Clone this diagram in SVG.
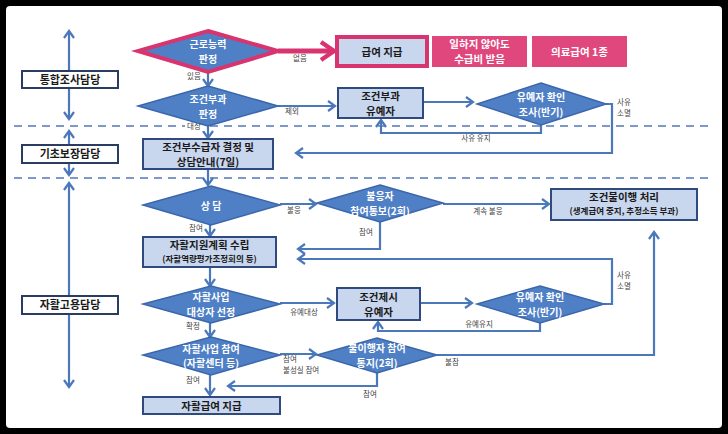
<svg xmlns="http://www.w3.org/2000/svg" width="728" height="434" viewBox="0 0 728 434">
<defs>
<style>
text{font-family:"Noto Sans CJK KR","Noto Sans",sans-serif;}
.lbox{fill:#ffffff;stroke:#2b3c63;stroke-width:2;}
.ltxt{font-size:11px;font-weight:bold;fill:#1a1a1a;text-anchor:middle;}
.box{fill:#c8d6ee;stroke:#2e4a7e;stroke-width:2;}
.btxt{font-size:10.5px;font-weight:bold;fill:#1a1a1a;text-anchor:middle;}
.stxt{font-size:8.5px;font-weight:bold;fill:#1a1a1a;text-anchor:middle;}
.dia{fill:#4f80c6;stroke:#3b66ab;stroke-width:1.5;}
.dtxt{font-size:10px;font-weight:bold;fill:#ffffff;text-anchor:middle;}
.pink{fill:#e0477c;}
.ptxt{font-size:10.5px;font-weight:bold;fill:#ffffff;text-anchor:middle;}
.lab{font-size:7.5px;fill:#444444;text-anchor:middle;}
.con{fill:none;stroke:#4a78bb;stroke-width:2.2;}
.dash{stroke:#7d99c9;stroke-width:2;stroke-dasharray:8,6;}
</style>
<marker id="ah" markerUnits="userSpaceOnUse" markerWidth="12" markerHeight="12" refX="9" refY="6" orient="auto">
<path d="M2,1 L9,6 L2,11" fill="none" stroke="#4a78bb" stroke-width="2.2"/>
</marker>
<marker id="ahp" markerUnits="userSpaceOnUse" markerWidth="20" markerHeight="22" refX="16" refY="11" orient="auto">
<path d="M3,2 L16,11 L3,20" fill="none" stroke="#d8346f" stroke-width="4.5"/>
</marker>
<marker id="ahs" markerUnits="userSpaceOnUse" markerWidth="12" markerHeight="12" refX="9" refY="6" orient="auto-start-reverse">
<path d="M2,1 L9,6 L2,11" fill="none" stroke="#4a78bb" stroke-width="2.2"/>
</marker>
</defs>
<rect x="0" y="0" width="728" height="434" fill="#000000"/>
<rect x="6" y="6" width="716" height="422" rx="4" fill="#ffffff"/>

<g id="dividers">
<line class="dash" x1="14" y1="126" x2="714" y2="126"/>
<line class="dash" x1="14" y1="178" x2="714" y2="178"/>
</g>

<g id="connectors">
<path class="con" d="M69,31 V119" marker-start="url(#ahs)" marker-end="url(#ah)"/>
<path class="con" d="M69,131 V175" marker-start="url(#ahs)" marker-end="url(#ah)"/>
<path class="con" d="M69,183 V387" marker-start="url(#ahs)" marker-end="url(#ah)"/>
<path d="M278,51 H334" fill="none" stroke="#d8346f" stroke-width="5" marker-end="url(#ahp)"/>
<path class="con" d="M208,72 V86" marker-end="url(#ah)"/>
<path class="con" d="M278,106 H335" marker-end="url(#ah)"/>
<path class="con" d="M208,126 V138" marker-end="url(#ah)"/>
<path class="con" d="M423,102 H473" marker-end="url(#ah)"/>
<path class="con" d="M606,104 H612 V153 H296" marker-end="url(#ah)"/>
<path class="con" d="M541,125 V133 H381 V120" marker-end="url(#ah)"/>
<path class="con" d="M208,169 V185" marker-end="url(#ah)"/>
<path class="con" d="M280,204 H316" marker-end="url(#ah)"/>
<path class="con" d="M443,204 H549" marker-end="url(#ah)"/>
<path class="con" d="M210,225 V236" marker-end="url(#ah)"/>
<path class="con" d="M380,222 V249 H298" marker-end="url(#ah)"/>
<path class="con" d="M604,304 H612 V259 H298" marker-end="url(#ah)"/>
<path class="con" d="M210,267 V286" marker-end="url(#ah)"/>
<path class="con" d="M280,303 H334" marker-end="url(#ah)"/>
<path class="con" d="M420,303 H472" marker-end="url(#ah)"/>
<path class="con" d="M540,323 V331 H378 V322" marker-end="url(#ah)"/>
<path class="con" d="M210,323 V337" marker-end="url(#ah)"/>
<path class="con" d="M280,354 H316" marker-end="url(#ah)"/>
<path class="con" d="M437,355 H654 V232" marker-end="url(#ah)"/>
<path class="con" d="M377,373 V386 H228" marker-end="url(#ah)"/>
<path class="con" d="M210,375 V395" marker-end="url(#ah)"/>
</g>

<g id="labels">
<text class="lab" x="300" y="61">없음</text>
<text class="lab" x="194" y="79">있음</text>
<text class="lab" x="292" y="114">제외</text>
<rect x="185" y="122" width="19" height="9" fill="#ffffff"/>
<text class="lab" x="194" y="129">대상</text>
<text class="lab" x="476" y="141">사유 유지</text>
<text class="lab" x="624" y="105">사유</text>
<text class="lab" x="624" y="116">소멸</text>
<text class="lab" x="294" y="213">불응</text>
<text class="lab" x="488" y="214">계속 불응</text>
<text class="lab" x="196" y="231">참여</text>
<text class="lab" x="366" y="235">참여</text>
<text class="lab" x="624" y="278">사유</text>
<text class="lab" x="624" y="289">소멸</text>
<text class="lab" x="304" y="315">유예대상</text>
<text class="lab" x="479" y="327">유예유지</text>
<text class="lab" x="193" y="329">확정</text>
<text class="lab" x="283" y="362" style="text-anchor:start">참여</text>
<text class="lab" x="283" y="373" style="text-anchor:start">불성실 참여</text>
<text class="lab" x="452" y="365">불참</text>
<text class="lab" x="370" y="397">참여</text>
<text class="lab" x="193" y="383">참여</text>
</g>

<g id="lane-integrated">
<rect class="lbox" x="22" y="71" width="96" height="17"/>
<text class="ltxt" x="70" y="83.5">통합조사담당</text>
</g>
<g id="lane-basic">
<rect class="lbox" x="22" y="145" width="96" height="18"/>
<text class="ltxt" x="70" y="158">기초보장담당</text>
</g>
<g id="lane-selfsupport">
<rect class="lbox" x="22" y="296" width="96" height="18"/>
<text class="ltxt" x="70" y="309">자활고용담당</text>
</g>

<g id="d-work-ability">
<polygon points="208,31 278,51 208,72 138,51" fill="#4f80c6" stroke="#d8346f" stroke-width="4"/>
<text class="dtxt" x="208" y="48">근로능력</text>
<text class="dtxt" x="208" y="62.5">판정</text>
</g>
<g id="n-benefit-pay">
<rect x="337" y="37" width="90" height="29" fill="#c8d6ee" stroke="#d8346f" stroke-width="4"/>
<text class="btxt" x="382" y="55.5">급여 지급</text>
</g>
<g id="n-pink1">
<rect class="pink" x="432" y="36" width="95" height="31"/>
<text class="ptxt" x="479.5" y="48">일하지 않아도</text>
<text class="ptxt" x="479.5" y="63">수급비 받음</text>
</g>
<g id="n-pink2">
<rect class="pink" x="532" y="36" width="95" height="31"/>
<text class="ptxt" x="579.5" y="55.5">의료급여 1종</text>
</g>

<g id="d-condition">
<polygon class="dia" points="208,86 278,106 208,126 138,106"/>
<text class="dtxt" x="208" y="103">조건부과</text>
<text class="dtxt" x="208" y="117.5">판정</text>
</g>
<g id="n-deferred1">
<rect class="box" x="338" y="88" width="85" height="30"/>
<text class="btxt" x="380.5" y="99.5">조건부과</text>
<text class="btxt" x="380.5" y="114.5">유예자</text>
</g>
<g id="d-check1">
<polygon class="dia" points="541,83 606,104 541,125 477,104"/>
<text class="dtxt" x="541" y="101">유예자 확인</text>
<text class="dtxt" x="541" y="115.5">조사(반기)</text>
</g>

<g id="n-decision">
<rect class="box" x="143" y="139" width="130" height="30"/>
<text class="btxt" x="208" y="150.5">조건부수급자 결정 및</text>
<text class="btxt" x="208" y="165.5">상담안내(7일)</text>
</g>

<g id="d-counsel">
<polygon class="dia" points="211,186 280,205 211,225 143,205"/>
<text class="dtxt" x="211" y="209.5">상 담</text>
</g>
<g id="d-notice">
<polygon class="dia" points="380,185 443,203 380,222 317,203"/>
<text class="dtxt" x="380" y="200">불응자</text>
<text class="dtxt" x="380" y="214.5">참여통보(2회)</text>
</g>
<g id="n-noncompliance">
<rect class="box" x="551" y="189" width="146" height="31"/>
<text class="btxt" x="624" y="201">조건불이행 처리</text>
<text class="stxt" x="624" y="214">(생계급여 중지, 추정소득 부과)</text>
</g>

<g id="n-plan">
<rect class="box" x="143" y="237" width="133" height="30"/>
<text class="btxt" x="209.5" y="248.5">자활지원계획 수립</text>
<text class="stxt" x="209.5" y="261.5">(자활역량평가조정회의 등)</text>
</g>

<g id="d-select">
<polygon class="dia" points="211,286 280,304 211,323 143,304"/>
<text class="dtxt" x="211" y="301">자활사업</text>
<text class="dtxt" x="211" y="315.5">대상자 선정</text>
</g>
<g id="n-deferred2">
<rect class="box" x="337" y="288" width="83" height="32"/>
<text class="btxt" x="378.5" y="300.5">조건제시</text>
<text class="btxt" x="378.5" y="315.5">유예자</text>
</g>
<g id="d-check2">
<polygon class="dia" points="540,286 604,304 540,323 477,304"/>
<text class="dtxt" x="540" y="301">유예자 확인</text>
<text class="dtxt" x="540" y="315.5">조사(반기)</text>
</g>

<g id="d-participate">
<polygon class="dia" points="211,337 280,355 211,375 143,355"/>
<text class="dtxt" x="211" y="352.5">자활사업 참여</text>
<text class="dtxt" x="211" y="367">(자활센터 등)</text>
</g>
<g id="d-urge">
<polygon class="dia" points="377,338 437,355 377,373 317,355"/>
<text class="dtxt" x="377" y="352">불이행자 참여</text>
<text class="dtxt" x="377" y="366.5">통지(2회)</text>
</g>

<g id="n-selfpay">
<rect class="box" x="143" y="397" width="137" height="17"/>
<text class="btxt" x="211.5" y="409.5">자활급여 지급</text>
</g>
</svg>
